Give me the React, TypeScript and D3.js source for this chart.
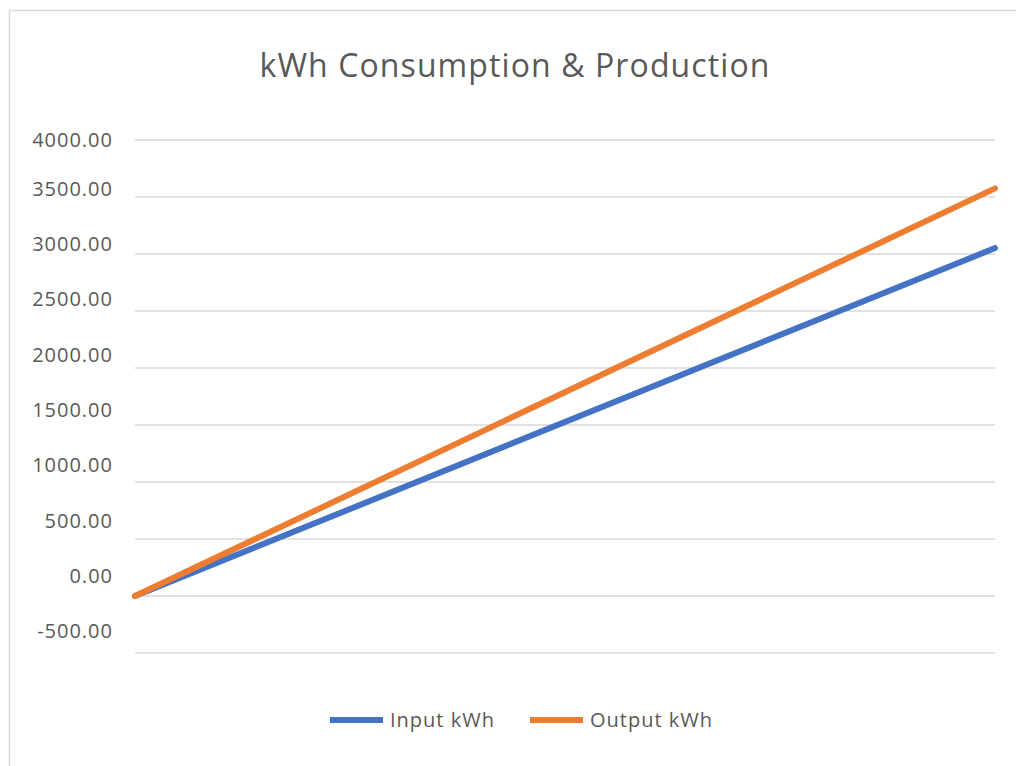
import React from "react";
import * as d3 from "d3";

const categories = ["Start", "End"];
const inputKwh = [0, 3052];
const outputKwh = [0, 3576];
const yTicks = [-500, 0, 500, 1000, 1500, 2000, 2500, 3000, 3500, 4000];
const seriesNames = ["Input kWh", "Output kWh"];
const seriesColors = ["#4472C4", "#ED7D31"];

const W = 1016;
const H = 766;
const FONT = "'Open Sans', 'Liberation Sans', sans-serif";

export default function App() {
  const x = d3.scalePoint<string>().domain(categories).range([135, 995]);
  const y = d3.scaleLinear().domain([-500, 4000]).range([653, 140]);
  // tick labels sit in their own column, offset from the gridlines as in the reference
  const yLabel = d3.scaleLinear().domain([-500, 3500, 4000]).range([631, 188.5, 140]);
  const line = d3
    .line<number>()
    .x((_, i) => x(categories[i]) as number)
    .y((d) => y(d));
  const series = [inputKwh, outputKwh];
  const legendX = [330, 530];
  return (
    <svg
      width={W}
      height={H}
      style={{ position: "absolute", left: 0, top: 0, background: "#fff" }}
    >
      <rect x={9.5} y={10.5} width={W + 20} height={H + 20} fill="#fff" stroke="#d9d9d9" strokeWidth={1.5} />
      <text x={515} y={77} textAnchor="middle" fontFamily={FONT} fontSize={32} letterSpacing={1.1} fill="#595959">
        kWh Consumption &amp; Production
      </text>
      {yTicks.map((t) => (
        <line key={"g" + t} x1={135} x2={995} y1={y(t)} y2={y(t)} stroke="#d9d9d9" strokeWidth={1.5} />
      ))}
      {yTicks.map((t) => (
        <text
          key={"t" + t}
          x={113}
          y={yLabel(t)}
          dy="0.36em"
          textAnchor="end"
          fontFamily={FONT}
          fontSize={20}
          letterSpacing={1}
          fill="#595959"
        >
          {d3.format(".2f")(t).replace("−", "-")}
        </text>
      ))}
      {series.map((s, i) => (
        <path
          key={i}
          d={line(s) || ""}
          fill="none"
          stroke={seriesColors[i]}
          strokeWidth={6}
          strokeLinecap="round"
        />
      ))}
      {seriesNames.map((n, i) => (
        <g key={n}>
          <line x1={legendX[i]} x2={legendX[i] + 53} y1={720} y2={720} stroke={seriesColors[i]} strokeWidth={6} />
          <text x={legendX[i] + 60} y={727} fontFamily={FONT} fontSize={20} letterSpacing={1} fill="#595959">
            {n}
          </text>
        </g>
      ))}
    </svg>
  );
}
